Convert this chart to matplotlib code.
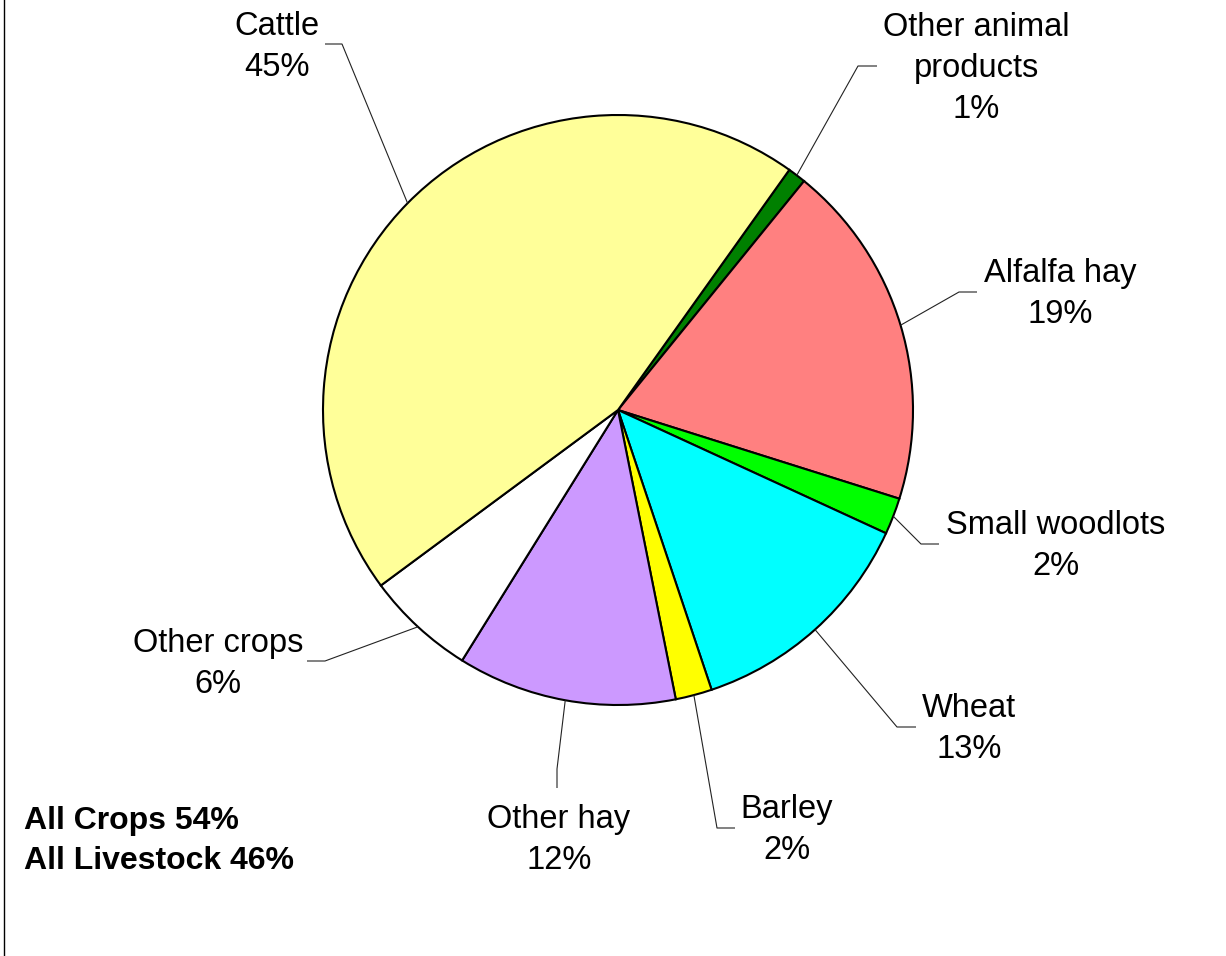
import numpy as np
import matplotlib
matplotlib.use('Agg')
from matplotlib import pyplot as plt

plt.rcParams['font.family'] = ['Liberation Sans', 'DejaVu Sans']

# slices, clockwise from the top-right
names = ['Other animal\nproducts', 'Alfalfa hay', 'Small woodlots', 'Wheat',
         'Barley', 'Other hay', 'Other crops', 'Cattle']
shares = [1, 19, 2, 13, 2, 12, 6, 45]
colors = ['#008000', '#FF8080', '#00FF00', '#00FFFF',
          '#FFFF00', '#CC99FF', '#FFFFFF', '#FFFF99']
totals = ['All Crops 54%', 'All Livestock 46%']

W, H = 1226, 956
# label layout in pixels (top-left origin): text centre x, first baseline y, elbow, line end
layout = [
    (976, 36, (858, 66), (877, 66)),
    (1060, 282, (959, 292), (977, 292)),
    (1056, 534, (921, 544), (939, 544)),
    (969, 717, (897, 727), (916, 727)),
    (787, 818, (717, 828), (735, 828)),
    (559, 828, (557, 769), (557, 788)),
    (218, 652, (325, 661), (307, 661)),
    (277, 35, (342, 44), (325, 44)),
]
cx, cy, r = 618, 410, 295
step = 41
fs = 23.5

fig = plt.figure(figsize=(W / 100, H / 100), dpi=100)
ax = fig.add_axes([0, 0, 1, 1])

wedges, _ = ax.pie(shares, colors=colors, startangle=54.5, counterclock=False,
                   center=(cx, H - cy), radius=r,
                   wedgeprops=dict(edgecolor='black', linewidth=1.5))

for w, name, share, (tx, ty, elbow, end) in zip(wedges, names, shares, layout):
    mid = np.deg2rad((w.theta1 + w.theta2) / 2)
    ax_ = cx + r * np.cos(mid)
    ay_ = (H - cy) + r * np.sin(mid)
    ax.plot([ax_, elbow[0], end[0]], [ay_, H - elbow[1], H - end[1]],
            color='#222222', lw=0.8, solid_capstyle='butt')
    lines = name.split('\n') + ['%d%%' % share]
    for i, s in enumerate(lines):
        ax.text(tx, H - (ty + i * step), s, ha='center', va='baseline', fontsize=fs)

for i, s in enumerate(totals):
    ax.text(24, H - (829 + i * 40), s, ha='left', va='baseline',
            fontsize=23, fontweight='bold')

ax.plot([4, 4], [0, H], color='black', lw=1)

ax.set_xlim(0, W)
ax.set_ylim(0, H)
ax.set_aspect('equal')
ax.axis('off')

fig.savefig('out.png', dpi=100, facecolor='white')
